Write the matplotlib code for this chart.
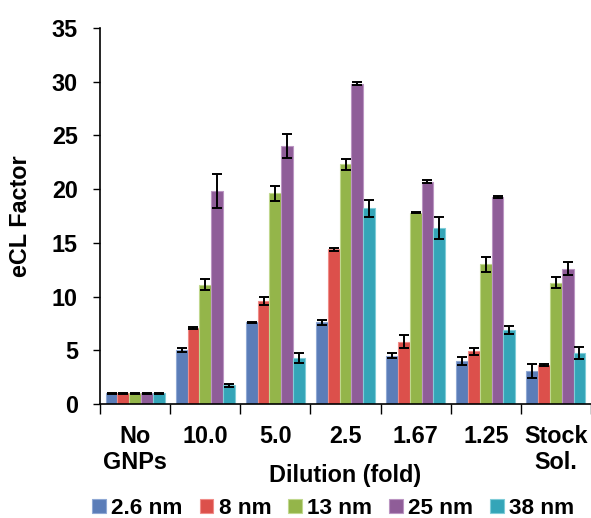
import numpy as np
import matplotlib
matplotlib.use('Agg')
import matplotlib.pyplot as plt

plt.rcParams['font.family'] = ['Liberation Sans', 'DejaVu Sans']
plt.rcParams['font.weight'] = 'bold'

# Data
CATEGORIES = ['No\nGNPs', '10.0', '5.0', '2.5', '1.67', '1.25', 'Stock\nSol.']
SIZES = ['2.6 nm', '8 nm', '13 nm', '25 nm', '38 nm']

val_26 = [1.0, 5.0, 7.6, 7.6, 4.5, 4.0, 3.1]
val_8 = [1.0, 7.1, 9.6, 14.4, 5.8, 4.9, 3.65]
val_13 = [1.0, 11.1, 19.6, 22.3, 17.8, 13.0, 11.3]
val_25 = [1.0, 19.8, 24.0, 29.8, 20.7, 19.3, 12.6]
val_38 = [1.0, 1.75, 4.3, 18.2, 16.4, 6.9, 4.75]

err_26 = [0.05, 0.2, 0.05, 0.25, 0.25, 0.35, 0.65]
err_8 = [0.05, 0.1, 0.4, 0.12, 0.6, 0.3, 0.08]
err_13 = [0.05, 0.5, 0.7, 0.5, 0.06, 0.7, 0.5]
err_25 = [0.05, 1.6, 1.1, 0.15, 0.15, 0.08, 0.6]
err_38 = [0.05, 0.15, 0.45, 0.75, 1.0, 0.4, 0.55]

COLORS = ['#5B7DB8', '#DC504B', '#94B54A', '#8F5D98', '#34A5B8']
EDGES = ['#8FA8D4', '#F08C88', '#C0D88E', '#BB95C2', '#7FCCD8']

values = [val_26, val_8, val_13, val_25, val_38]
errors = [err_26, err_8, err_13, err_25, err_38]

FS = 16.8

fig = plt.figure(figsize=(5.91, 5.18), dpi=100)
ax = fig.add_axes([100/591, 1 - 404/518, 491/591, 376/518])

x = np.arange(len(CATEGORIES))
w = 0.168
for i, (v, e) in enumerate(zip(values, errors)):
    ax.bar(x + (i - 2) * w, v, w, color=COLORS[i], edgecolor=EDGES[i],
           linewidth=0.8, label=SIZES[i], zorder=2)
    ax.errorbar(x + (i - 2) * w, v, yerr=e, fmt='none', ecolor='black',
                elinewidth=1.4, capsize=3.5, capthick=1.4, zorder=3)

ax.set_xlim(-0.5, len(CATEGORIES) - 0.5)
ax.set_ylim(0, 35)
ax.set_yticks(range(0, 36, 5))
ax.tick_params(axis='y', direction='out', length=5, width=1, pad=11, labelsize=FS)

# category boundaries as major ticks, labels at centres
ax.set_xticks(np.arange(-0.5, len(CATEGORIES), 1))
ax.set_xticklabels([])
ax.set_xticks(x, minor=True)
ax.set_xticklabels(CATEGORIES, minor=True, fontsize=FS, fontweight='bold')
ax.tick_params(axis='x', which='major', direction='out', length=7, width=1)
ax.tick_params(axis='x', which='minor', length=0, pad=15)

for s in ['top', 'right']:
    ax.spines[s].set_visible(False)
ax.spines['left'].set_linewidth(1.2)
ax.spines['bottom'].set_linewidth(1.2)

ax.set_ylabel('eCL Factor', fontsize=FS, fontweight='bold')
ax.yaxis.set_label_coords(-0.138, 0.5)
ax.set_xlabel('Dilution (fold)', fontsize=FS, fontweight='bold')
ax.xaxis.set_label_coords(0.5, -0.207)
ax.xaxis.label.set_verticalalignment('baseline')

ax.legend(loc='center', bbox_to_anchor=(0.564, 0.018), bbox_transform=fig.transFigure,
          ncol=5, frameon=False, fontsize=16.2, handlelength=0.6, handleheight=0.6,
          handletextpad=0.25, columnspacing=0.75, borderaxespad=0)

fig.savefig('out.png', dpi=100)
